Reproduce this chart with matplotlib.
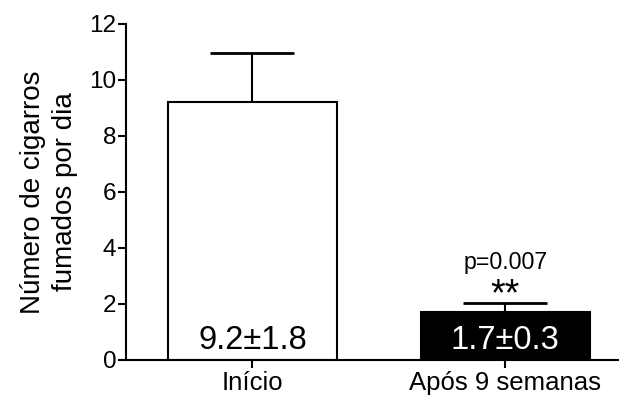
import matplotlib
matplotlib.use("Agg")
import matplotlib.pyplot as plt

plt.rcParams['font.family'] = ['Liberation Sans', 'DejaVu Sans']

categories = ["Início", "Após 9 semanas"]
means = [9.2, 1.7]
errors = [1.75, 0.35]
bar_labels = ["9.2±1.8", "1.7±0.3"]
colors = ["white", "black"]
text_colors = ["black", "white"]
yticks = [0, 2, 4, 6, 8, 10, 12]

fig = plt.figure(figsize=(6.19, 3.96), dpi=100)
ax = fig.add_axes([126/619, 1 - 360/396, 1 - 126/619, (360 - 24)/396])

x = list(range(len(categories)))
ax.bar(x, means, width=0.67, color=colors, edgecolor="black", linewidth=1.5, zorder=2)
for xi, m, e in zip(x, means, errors):
    ax.errorbar(xi, m, yerr=[[0], [e]], fmt="none", ecolor="black",
                elinewidth=1.5, capsize=30.5, capthick=2, zorder=1)
for xi, lab, tc in zip(x, bar_labels, text_colors):
    ax.text(xi, 0.39, lab, ha="center", va="baseline", fontsize=23.5, color=tc, zorder=3)

ax.text(1, 3.25, "p=0.007", ha="center", va="baseline", fontsize=16.7)
ax.text(1, 1.95, "**", ha="center", va="baseline", fontsize=27)

ax.set_xlim(-0.5, 1.45)
ax.set_ylim(0, 12)
ax.set_yticks(yticks)
ax.set_xticks(x)
ax.set_xticklabels(categories, fontsize=18.5)
ax.tick_params(axis="y", labelsize=17.5, width=1.5, length=6, pad=1)
ax.tick_params(axis="x", width=1.5, length=6, pad=2)
for s in ["top", "right"]:
    ax.spines[s].set_visible(False)
for s in ["left", "bottom"]:
    ax.spines[s].set_linewidth(1.5)

ax.set_ylabel("Número de cigarros\nfumados por dia", fontsize=20, linespacing=1.3, labelpad=8)

fig.savefig("out.png", dpi=100)
